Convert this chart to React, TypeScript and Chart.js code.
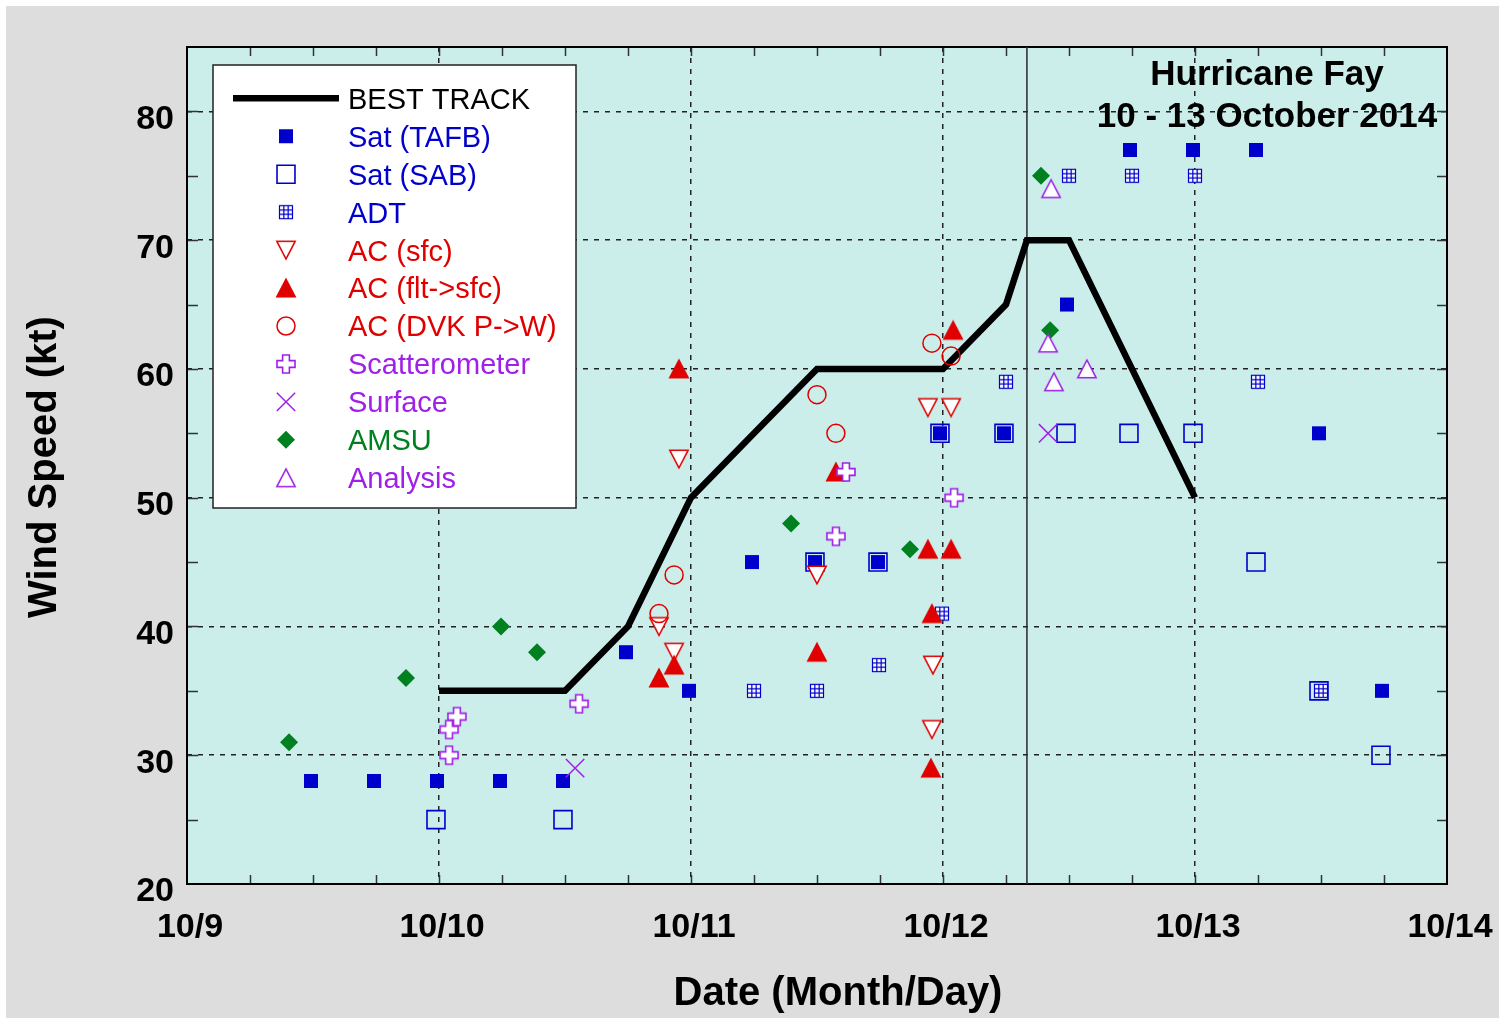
import React, { useEffect, useRef } from 'react';
import Chart from 'chart.js/auto';
import { drawPoint } from 'chart.js/helpers';

const FONT = '"Liberation Sans", Arial, Helvetica, sans-serif';

// ---------- text ----------
const xTickLabels = ['10/9', '10/10', '10/11', '10/12', '10/13', '10/14'];
const yTickLabels = ['20', '30', '40', '50', '60', '70', '80'];
const titleLines = ['Hurricane Fay', '10 - 13 October 2014'];
const xAxisTitle = 'Date (Month/Day)';
const yAxisTitle = 'Wind Speed (kt)';
const legendLabels = [
  'BEST TRACK', 'Sat (TAFB)', 'Sat (SAB)', 'ADT', 'AC (sfc)', 'AC (flt->sfc)',
  'AC (DVK P->W)', 'Scatterometer', 'Surface', 'AMSU', 'Analysis',
];

// ---------- data (x = days since 10/9 00 UTC, y = kt) ----------
const bestTrackX = [1.0, 1.5, 1.75, 2.0, 2.25, 2.5, 3.0, 3.25, 3.333, 3.5, 3.75, 4.0];
const bestTrackY = [35, 35, 40, 50, 55, 60, 60, 65, 70, 70, 60, 50];

const landfallX = [3.333, 3.333];
const landfallY = [20, 85];

const tafbX = [0.492, 0.742, 0.992, 1.242, 1.492, 1.742, 1.992, 2.242, 2.492, 2.742, 2.988, 3.242, 3.492, 3.742, 3.992, 4.242, 4.492, 4.742];
const tafbY = [28, 28, 28, 28, 28, 38, 35, 45, 45, 45, 55, 55, 65, 77, 77, 77, 55, 35];

const sabX = [0.988, 1.492, 2.492, 2.742, 2.988, 3.242, 3.488, 3.738, 3.992, 4.242, 4.492, 4.738];
const sabY = [25, 25, 45, 45, 55, 55, 55, 55, 55, 45, 35, 30];

const adtX = [2.25, 2.5, 2.746, 2.996, 3.25, 3.5, 3.75, 4.0, 4.25, 4.5];
const adtY = [35, 35, 37, 41, 59, 75, 75, 75, 59, 35];

const acSfcX = [1.873, 1.933, 1.952, 2.5, 2.94, 2.956, 2.96, 3.032];
const acSfcY = [40, 38, 53, 44, 57, 32, 37, 57];

const acFltX = [1.873, 1.933, 1.952, 2.5, 2.575, 2.94, 2.952, 2.956, 3.032, 3.04];
const acFltY = [36, 37, 60, 38, 52, 46, 29, 41, 46, 63];

const dvkX = [1.873, 1.933, 2.5, 2.575, 2.956, 3.032];
const dvkY = [41, 44, 58, 55, 62, 61];

const scatX = [1.04, 1.04, 1.071, 1.556, 2.575, 2.615, 3.044];
const scatY = [30, 32, 33, 34, 47, 52, 50];

const surfaceX = [1.54, 3.417];
const surfaceY = [29, 55];

const amsuX = [0.405, 0.869, 1.246, 1.389, 2.397, 2.869, 3.389, 3.425];
const amsuY = [31, 36, 40, 38, 48, 46, 75, 63];

const analysisX = [3.417, 3.429, 3.44, 3.571];
const analysisY = [62, 74, 59, 60];

// ---------- colours ----------
const BLUE = '#0000cc';
const RED = '#e00000';
const PURPLE = '#a020e8';
const GREEN = '#008020';

const pts = (xs: number[], ys: number[]) => xs.map((x, i) => ({ x, y: ys[i] }));

function makeCanvas(w: number, h: number, draw: (g: CanvasRenderingContext2D) => void) {
  const c = document.createElement('canvas');
  c.width = w;
  c.height = h;
  const g = c.getContext('2d')!;
  draw(g);
  return c;
}

function triangle(fill: string, stroke: string, down: boolean) {
  return makeCanvas(22, 22, (g) => {
    g.beginPath();
    if (down) {
      g.moveTo(1.8, 2.2); g.lineTo(20.2, 2.2); g.lineTo(11, 19.8);
    } else {
      g.moveTo(11, 2.2); g.lineTo(20.2, 19.8); g.lineTo(1.8, 19.8);
    }
    g.closePath();
    g.fillStyle = fill;
    g.fill();
    g.lineWidth = 1.5;
    g.strokeStyle = stroke;
    g.stroke();
  });
}

function plusShape() {
  return makeCanvas(22, 22, (g) => {
    const c = 11, a = 3.4, l = 9;
    g.beginPath();
    g.moveTo(c - a, c - l); g.lineTo(c + a, c - l); g.lineTo(c + a, c - a);
    g.lineTo(c + l, c - a); g.lineTo(c + l, c + a); g.lineTo(c + a, c + a);
    g.lineTo(c + a, c + l); g.lineTo(c - a, c + l); g.lineTo(c - a, c + a);
    g.lineTo(c - l, c + a); g.lineTo(c - l, c - a); g.lineTo(c - a, c - a);
    g.closePath();
    g.fillStyle = '#ffffff';
    g.fill();
    g.lineWidth = 1.6;
    g.strokeStyle = PURPLE;
    g.stroke();
  });
}

function adtShape() {
  return makeCanvas(16, 16, (g) => {
    const s = 1.5, e = 14.5, t = (e - s) / 3;
    g.fillStyle = '#ffffff';
    g.fillRect(s, s, e - s, e - s);
    g.strokeStyle = BLUE;
    g.lineWidth = 1.2;
    g.strokeRect(s, s, e - s, e - s);
    g.beginPath();
    g.moveTo(s + t, s); g.lineTo(s + t, e);
    g.moveTo(s + 2 * t, s); g.lineTo(s + 2 * t, e);
    g.moveTo(s, s + t); g.lineTo(e, s + t);
    g.moveTo(s, s + 2 * t); g.lineTo(e, s + 2 * t);
    g.stroke();
  });
}

export default function App() {
  const ref = useRef<HTMLCanvasElement | null>(null);

  useEffect(() => {
    const canvas = ref.current;
    if (!canvas) return;

    const styles: any[] = [
      { kind: 'line', text: '#000000' },
      { pointStyle: 'rect', radius: 9.9, rotation: 0, bg: BLUE, border: BLUE, bw: 0, text: BLUE },
      { pointStyle: 'rect', radius: 12.7, rotation: 0, bg: 'rgba(0,0,0,0)', border: BLUE, bw: 1.6, text: BLUE },
      { pointStyle: adtShape(), radius: 8, rotation: 0, bg: '#fff', border: BLUE, bw: 0, text: BLUE },
      { pointStyle: triangle('#ffffff', RED, true), radius: 10, rotation: 0, bg: '#fff', border: RED, bw: 0, text: RED },
      { pointStyle: triangle(RED, RED, false), radius: 10, rotation: 0, bg: RED, border: RED, bw: 0, text: RED },
      { pointStyle: 'circle', radius: 9, rotation: 0, bg: 'rgba(0,0,0,0)', border: RED, bw: 1.5, text: RED },
      { pointStyle: plusShape(), radius: 10, rotation: 0, bg: '#fff', border: PURPLE, bw: 0, text: PURPLE },
      { pointStyle: 'crossRot', radius: 13, rotation: 0, bg: 'rgba(0,0,0,0)', border: PURPLE, bw: 1.5, text: PURPLE },
      { pointStyle: 'rectRot', radius: 9, rotation: 0, bg: GREEN, border: GREEN, bw: 0, text: GREEN },
      { pointStyle: triangle('#ffffff', PURPLE, false), radius: 10, rotation: 0, bg: '#fff', border: PURPLE, bw: 0, text: PURPLE },
    ];

    const seriesData = [
      pts(bestTrackX, bestTrackY),
      pts(tafbX, tafbY),
      pts(sabX, sabY),
      pts(adtX, adtY),
      pts(acSfcX, acSfcY),
      pts(acFltX, acFltY),
      pts(dvkX, dvkY),
      pts(scatX, scatY),
      pts(surfaceX, surfaceY),
      pts(amsuX, amsuY),
      pts(analysisX, analysisY),
    ];

    const n = seriesData.length;
    const datasets: any[] = seriesData.map((data, i) => {
      const st = styles[i];
      if (i === 0) {
        return {
          type: 'line', label: legendLabels[0], data, showLine: true,
          borderColor: '#000', borderWidth: 6.5, pointRadius: 0, tension: 0,
          borderJoinStyle: 'miter', order: n + 1,
        };
      }
      return {
        type: 'scatter', label: legendLabels[i], data,
        pointStyle: st.pointStyle, pointRadius: st.radius, pointRotation: st.rotation,
        pointBackgroundColor: st.bg, pointBorderColor: st.border, pointBorderWidth: st.bw,
        pointHoverRadius: st.radius, order: n - i,
      };
    });
    datasets.push({
      type: 'line', label: 'landfall', data: pts(landfallX, landfallY), showLine: true,
      borderColor: '#333', borderWidth: 1.6, pointRadius: 0, order: n + 5,
    });

    const sideTicks = {
      id: 'frameAndDecor',
      beforeDraw(chart: any) {
        const { ctx, chartArea: a } = chart;
        ctx.save();
        ctx.fillStyle = '#ffffff';
        ctx.fillRect(0, 0, chart.width, chart.height);
        ctx.fillStyle = '#dcdddc';
        ctx.fillRect(6, 6, chart.width - 6, chart.height - 12);
        ctx.fillStyle = '#cbeeea';
        ctx.fillRect(a.left, a.top, a.right - a.left, a.bottom - a.top);
        ctx.restore();
      },
      beforeDatasetsDraw(chart: any) {
        const { ctx, chartArea: a, scales } = chart;
        ctx.save();
        ctx.strokeStyle = '#333';
        ctx.lineWidth = 1.5;
        ctx.beginPath();
        for (let q = 1; q < 20; q++) {
          const px = Math.round(scales.x.getPixelForValue(q / 4)) + 0.5;
          ctx.moveTo(px, a.bottom); ctx.lineTo(px, a.bottom - 9);
          ctx.moveTo(px, a.top); ctx.lineTo(px, a.top + 9);
        }
        for (let v = 25; v < 85; v += 5) {
          const py = Math.round(scales.y.getPixelForValue(v)) + 0.5;
          ctx.moveTo(a.left, py); ctx.lineTo(a.left + 11, py);
          ctx.moveTo(a.right, py); ctx.lineTo(a.right - 10, py);
        }
        ctx.stroke();
        ctx.strokeStyle = '#000';
        ctx.lineWidth = 2;
        ctx.strokeRect(a.left, a.top, a.right - a.left, a.bottom - a.top);
        ctx.restore();
      },
      afterDraw(chart: any) {
        const { ctx } = chart;
        ctx.save();
        // legend box
        const L = 213, T = 65, R = 576, B = 508;
        ctx.fillStyle = '#ffffff';
        ctx.fillRect(L, T, R - L, B - T);
        ctx.strokeStyle = '#222';
        ctx.lineWidth = 1.5;
        ctx.strokeRect(L, T, R - L, B - T);
        ctx.font = `29px ${FONT}`;
        ctx.textAlign = 'left';
        ctx.textBaseline = 'alphabetic';
        legendLabels.forEach((lab, i) => {
          const y = 98.3 + i * 37.95;
          const st = styles[i];
          if (i === 0) {
            ctx.strokeStyle = '#000';
            ctx.lineWidth = 6.5;
            ctx.beginPath();
            ctx.moveTo(233, y); ctx.lineTo(339, y);
            ctx.stroke();
          } else {
            ctx.save();
            ctx.fillStyle = st.bg;
            ctx.strokeStyle = st.border;
            ctx.lineWidth = st.bw;
            drawPoint(ctx, { pointStyle: st.pointStyle, radius: st.radius, rotation: st.rotation, borderWidth: st.bw }, 286, y);
            ctx.restore();
          }
          ctx.fillStyle = st.text;
          ctx.fillText(lab, 348, y + 10.4);
        });
        // title
        ctx.fillStyle = '#000';
        ctx.textAlign = 'center';
        ctx.font = `bold 35px ${FONT}`;
        ctx.fillText(titleLines[0], 1267, 85);
        ctx.fillText(titleLines[1], 1267, 127);
        // axis titles
        ctx.font = `bold 40px ${FONT}`;
        ctx.fillText(xAxisTitle, 838, 1005);
        ctx.translate(56, 467);
        ctx.rotate(-Math.PI / 2);
        ctx.fillText(yAxisTitle, 0, 0);
        ctx.restore();
      },
    };

    const tickFont = { family: FONT, size: 34, weight: 'bold' as const };

    const chart = new Chart(canvas, {
      type: 'scatter',
      data: { datasets },
      plugins: [sideTicks],
      options: {
        responsive: false,
        animation: false,
        events: [],
        layout: { padding: { left: 0, right: 52, top: 47, bottom: 0 } },
        plugins: { legend: { display: false }, tooltip: { enabled: false }, title: { display: false } },
        scales: {
          x: {
            type: 'linear', min: 0, max: 5,
            afterFit: (s: any) => { s.height = 140; s.paddingLeft = 0; s.paddingRight = 0; },
            ticks: {
              stepSize: 1, autoSkip: false, maxRotation: 0, padding: 23, labelOffset: 3,
              color: '#000', font: tickFont,
              callback: (v: any) => (Number.isInteger(v) ? xTickLabels[v] : ''),
            },
            grid: {
              drawTicks: false, lineWidth: 1.5,
              color: (c: any) => (c.tick && c.tick.value > 0 && c.tick.value < 5 ? '#222' : 'rgba(0,0,0,0)'),
            },
            border: { display: false, dash: [5, 6] },
          },
          y: {
            type: 'linear', min: 20, max: 85,
            afterFit: (s: any) => { s.width = 187; s.paddingTop = 0; s.paddingBottom = 0; },
            ticks: {
              stepSize: 10, includeBounds: false, padding: 13, labelOffset: 8,
              color: '#000', font: tickFont,
              callback: (v: any) => {
                const k = (v - 20) / 10;
                return Number.isInteger(k) && yTickLabels[k] ? yTickLabels[k] : '';
              },
            },
            grid: {
              drawTicks: false, lineWidth: 1.5,
              color: (c: any) => (c.tick && c.tick.value > 20 && c.tick.value < 85 ? '#222' : 'rgba(0,0,0,0)'),
            },
            border: { display: false, dash: [5, 6] },
          },
        },
      } as any,
    });

    return () => chart.destroy();
  }, []);

  return (
    <div style={{ position: 'fixed', left: 0, top: 0, width: 1499, height: 1024, background: '#fff' }}>
      <canvas ref={ref} width={1499} height={1024} style={{ display: 'block' }} />
    </div>
  );
}
